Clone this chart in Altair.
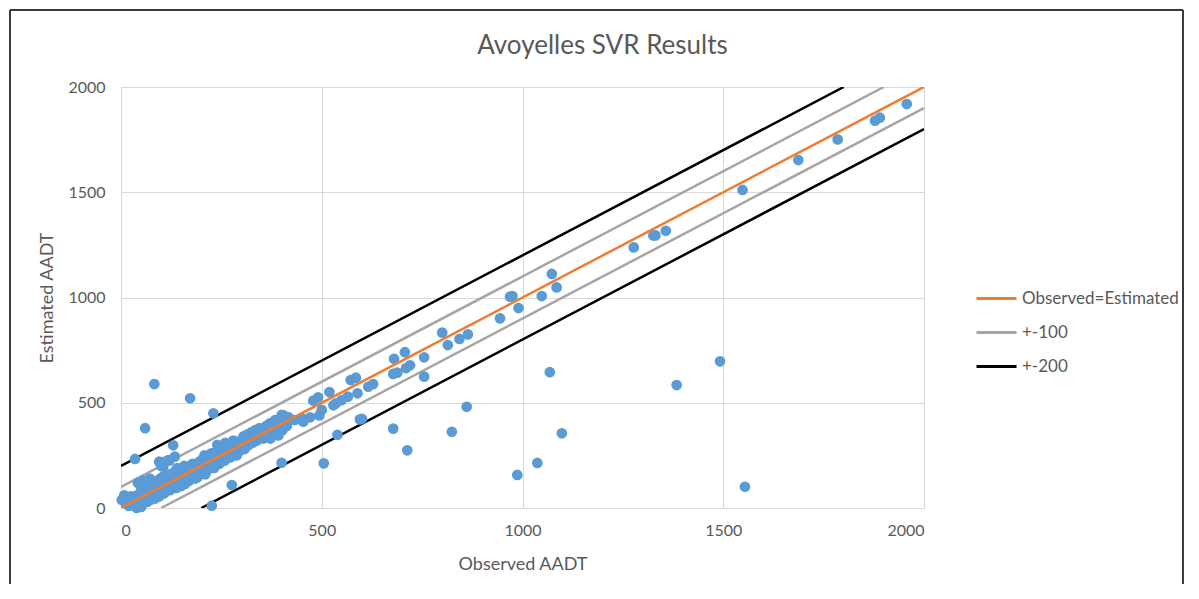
import altair as alt
import pandas as pd

# ---- scatter data (Observed AADT, Estimated AADT) ----
upper_points = [
    (1957, 1919), (1890, 1854), (1878, 1840), (1785, 1751), (1687, 1653),
    (1548, 1511), (1357, 1317), (1331, 1295), (1326, 1295), (1277, 1238),
    (1073, 1112), (1085, 1048), (1048, 1007), (969, 1004), (975, 1007),
    (990, 950), (944, 901),
]
outliers = [
    (1068, 645), (1384, 584), (1492, 697), (1098, 355), (1554, 101),
    (1037, 214), (987, 157), (505, 212), (539, 348), (595, 421), (600, 424),
    (678, 377), (713, 274), (824, 362), (861, 481), (230, 450), (172, 521),
    (83, 589), (60, 379), (35, 233), (130, 298), (400, 215), (276, 109),
    (226, 11), (39, 0), (2, 38),
]
mid_points = [
    (800, 833), (814, 774), (843, 803), (864, 825), (755, 716), (755, 624),
    (680, 709), (707, 740), (710, 665), (720, 678), (678, 637), (688, 643),
    (572, 608), (585, 619), (616, 576), (628, 589), (589, 545), (565, 529),
    (550, 513), (535, 497), (529, 488), (519, 551), (479, 510), (491, 526),
    (500, 466), (494, 440), (471, 431), (454, 410), (450, 426), (433, 418),
    (413, 402), (400, 442), (384, 418), (371, 402), (359, 371),
    (95, 220), (105, 196), (118, 228), (134, 244),
]
band_low = [
    (5, 40), (10, 35), (15, 45), (20, 30), (25, 55), (30, 40), (35, 20),
    (40, 60), (45, 50), (50, 80), (55, 45), (60, 70), (65, 90), (70, 55),
    (75, 100), (80, 65), (85, 120), (90, 85), (95, 75), (100, 110), (42, 120),
    (48, 110), (55, 130), (62, 125), (68, 105), (72, 140), (78, 95), (88, 60),
    (92, 130), (98, 140), (20, 10), (30, 25), (45, 15), (58, 25), (66, 30),
    (75, 40), (85, 45), (95, 55), (50, 5), (12, 20), (8, 60),
]
band_100 = [
    (102, 90), (105, 150), (108, 70), (112, 130), (115, 100), (118, 160),
    (122, 85), (125, 140), (128, 110), (132, 170), (135, 120), (138, 95),
    (142, 150), (145, 180), (148, 130), (152, 110), (155, 160), (158, 200),
    (162, 140), (165, 125), (168, 175), (172, 190), (175, 150), (178, 210),
    (182, 165), (185, 140), (188, 200), (192, 180), (195, 220), (198, 160),
    (100, 200), (110, 220), (120, 225), (140, 190), (150, 105), (160, 115),
    (170, 130), (180, 150), (190, 145), (200, 175),
]
band_200 = [
    (202, 230), (205, 190), (208, 250), (212, 210), (215, 180), (218, 240),
    (222, 200), (225, 260), (228, 220), (232, 190), (235, 250), (238, 270),
    (242, 230), (245, 210), (248, 280), (252, 240), (255, 260), (258, 225),
    (262, 290), (265, 250), (268, 270), (272, 240), (275, 300), (278, 260),
    (282, 280), (285, 310), (288, 250), (292, 290), (295, 270), (298, 320),
    (210, 160), (230, 205), (250, 225), (270, 245), (290, 265), (300, 290),
    (240, 300), (260, 310), (280, 320),
]
band_300 = [
    (302, 300), (305, 340), (308, 280), (312, 320), (315, 350), (318, 300),
    (322, 330), (325, 360), (328, 310), (332, 340), (335, 370), (338, 320),
    (342, 350), (345, 380), (348, 340), (352, 360), (355, 330), (358, 370),
    (362, 390), (365, 345), (370, 380), (375, 400), (380, 360), (385, 410),
    (390, 375), (395, 420), (400, 390), (405, 440), (410, 400), (418, 430),
    (372, 330), (392, 345), (402, 370), (413, 390),
]

# ---- reference lines ----
line_series = ["Observed=Estimated", "Observed=Estimated",
               "+-100", "+-100", "+-100", "+-100",
               "+-200", "+-200", "+-200", "+-200"]
line_seg = ["eq", "eq", "p100u", "p100u", "p100l", "p100l",
            "p200u", "p200u", "p200l", "p200l"]
line_x = [0, 2000, 0, 1900, 100, 2000, 0, 1800, 200, 2000]
line_y = [0, 2000, 100, 2000, 0, 1900, 200, 2000, 0, 1800]

legend_domain = ["Observed=Estimated", "+-100", "+-200"]
legend_colors = ["#ED7D31", "#A5A5A5", "#000000"]
ticks = [0, 500, 1000, 1500, 2000]

all_pts = upper_points + outliers + mid_points + band_low + band_100 + band_200 + band_300
pts_df = pd.DataFrame(all_pts, columns=["Observed", "Estimated"])
line_df = pd.DataFrame({"x": line_x, "y": line_y, "series": line_series, "seg": line_seg})

FONT = "Lato"
GREY = "#595959"
FRAME = "#3A3A3A"

xscale = alt.Scale(domain=[0, 2000], nice=False)
yscale = alt.Scale(domain=[0, 2000], nice=False)

color = alt.Color(
    "series:N",
    scale=alt.Scale(domain=legend_domain, range=legend_colors),
    legend=alt.Legend(
        title=None, orient="none", legendX=854, legendY=190,
        symbolType="stroke", symbolSize=1600, symbolStrokeWidth=3,
        labelFontSize=17, labelColor=GREY, labelFont=FONT,
        rowPadding=4, labelOffset=4, padding=0,
    ),
)

one = pd.DataFrame({"k": [0]})
frame_top = alt.Chart(one).mark_rule(color=FRAME, strokeWidth=2).encode(
    x=alt.value(-111), x2=alt.value(1062), y=alt.value(-77))
frame_left = alt.Chart(one).mark_rule(color=FRAME, strokeWidth=2).encode(
    x=alt.value(-111), y=alt.value(-77), y2=alt.value(600))
frame_right = alt.Chart(one).mark_rule(color=FRAME, strokeWidth=2).encode(
    x=alt.value(1062), y=alt.value(-77), y2=alt.value(600))

points = alt.Chart(pts_df).mark_circle(size=115, color="#5B9BD5", opacity=1).encode(
    x=alt.X("Observed:Q", scale=xscale,
            axis=alt.Axis(title="Observed AADT", values=ticks, format="d",
                          labelPadding=14, titlePadding=17)),
    y=alt.Y("Estimated:Q", scale=yscale,
            axis=alt.Axis(title="Estimated AADT", values=ticks, format="d",
                          labelPadding=16, titlePadding=11)),
)

gb_lines = alt.Chart(line_df).transform_filter(
    alt.datum.series != "Observed=Estimated"
).mark_line(strokeWidth=2.5, clip=True).encode(
    x=alt.X("x:Q", scale=xscale),
    y=alt.Y("y:Q", scale=yscale),
    color=color,
    detail="seg:N",
)

eq_line = alt.Chart(line_df).transform_filter(
    alt.datum.series == "Observed=Estimated"
).mark_line(strokeWidth=2.5, clip=True).encode(
    x=alt.X("x:Q", scale=xscale),
    y=alt.Y("y:Q", scale=yscale),
    color=color,
    detail="seg:N",
)

chart = alt.layer(gb_lines, points, eq_line, frame_top, frame_left, frame_right).properties(
    width=803, height=421,
    autosize=alt.AutoSizeParams(type="none"),
    padding={"left": 113, "top": 79, "right": 260, "bottom": 76},
    title=alt.TitleParams("Avoyelles SVR Results", fontSize=26, font=FONT,
                          fontWeight="normal", color=GREY, frame="group",
                          anchor="middle", dx=80, offset=-50),
).configure_axis(
    domain=False, ticks=False, tickSize=0, gridColor="#D9D9D9", gridWidth=1,
    labelColor=GREY, labelFont=FONT, labelFontSize=16,
    titleColor=GREY, titleFont=FONT, titleFontSize=18, titleFontWeight="normal",
).configure_view(stroke="#D9D9D9")

chart.save("out.html", embed_options={"renderer": "svg", "actions": False})
